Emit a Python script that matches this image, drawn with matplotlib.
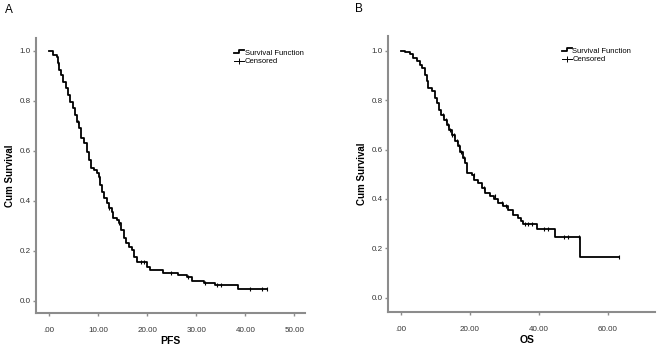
import numpy as np
import matplotlib
matplotlib.use("Agg")
import matplotlib.pyplot as plt
from matplotlib.lines import Line2D
from matplotlib.legend_handler import HandlerBase

plt.rcParams['font.family'] = ['Liberation Sans', 'DejaVu Sans']

# PFS: step times and survival level after each step
pfs_t = [0.0, 0.9, 1.6, 1.9, 2.05, 2.45, 2.9, 3.4, 3.8, 4.3, 4.8, 5.3, 5.8, 6.2, 6.5, 7.2,
         7.7, 8.2, 8.6, 9.2, 9.7, 10.1, 10.3, 10.8, 11.3, 11.8, 12.2, 12.8, 13.1, 13.8, 14.3,
         14.7, 15.2, 15.6, 16.3, 16.9, 17.4, 17.9, 19.9, 20.6, 23.2, 26.2, 28.1, 29.1, 31.5,
         33.9, 38.6, 44.4]
pfs_s = [1.0, 0.984, 0.977, 0.951, 0.924, 0.904, 0.877, 0.851, 0.824, 0.797, 0.771, 0.744,
         0.717, 0.691, 0.651, 0.631, 0.597, 0.564, 0.533, 0.524, 0.511, 0.497, 0.464, 0.437,
         0.411, 0.391, 0.371, 0.357, 0.331, 0.324, 0.311, 0.284, 0.251, 0.231, 0.217, 0.204,
         0.177, 0.155, 0.137, 0.122, 0.111, 0.103, 0.095, 0.079, 0.071, 0.064, 0.046, 0.046]
pfs_cens_t = [1.9, 5.9, 10.1, 12.3, 14.3, 18.8, 19.4, 24.8, 28.4, 31.8, 34.3, 35.1, 41.0,
              43.3, 44.4]
pfs_cens_s = [0.951, 0.717, 0.497, 0.371, 0.311, 0.155, 0.155, 0.111, 0.095, 0.071, 0.064,
              0.064, 0.046, 0.046, 0.046]

# OS
os_t = [0.0, 1.2, 2.6, 3.6, 4.5, 5.5, 6.2, 6.8, 7.4, 7.9, 8.9, 9.7, 10.3, 11.0, 11.6, 12.6,
        13.2, 13.9, 14.7, 15.7, 16.4, 17.1, 18.1, 18.6, 19.0, 20.5, 21.2, 22.4, 23.6, 24.3,
        25.8, 27.0, 28.2, 29.7, 31.1, 32.6, 33.8, 34.8, 35.5, 39.3, 44.6, 51.8, 63.2]
os_s = [1.0, 0.995, 0.986, 0.97, 0.957, 0.943, 0.93, 0.903, 0.876, 0.849, 0.835, 0.809,
        0.788, 0.761, 0.741, 0.721, 0.7, 0.68, 0.66, 0.633, 0.613, 0.592, 0.566, 0.545, 0.507,
        0.498, 0.478, 0.464, 0.444, 0.424, 0.41, 0.401, 0.383, 0.37, 0.356, 0.336, 0.323,
        0.309, 0.3, 0.279, 0.245, 0.164, 0.164]
os_cens_t = [12.2, 13.0, 13.6, 14.3, 14.9, 15.5, 16.2, 16.8, 17.5, 18.3, 21.3, 24.0, 27.3,
             29.2, 30.4, 36.0, 36.9, 38.0, 41.5, 42.6, 47.4, 48.4, 51.5, 63.2]
os_cens_s = [0.741, 0.721, 0.7, 0.68, 0.66, 0.66, 0.633, 0.613, 0.592, 0.566, 0.498, 0.444,
             0.41, 0.383, 0.37, 0.3, 0.3, 0.3, 0.279, 0.279, 0.245, 0.245, 0.245, 0.164]


class StepHandler(HandlerBase):
    def create_artists(self, legend, orig_handle, xd, yd, w, h, fontsize, trans):
        xs = [xd, xd + w * 0.5, xd + w * 0.5, xd + w]
        ys = [yd + h * 0.25, yd + h * 0.25, yd + h * 0.85, yd + h * 0.85]
        ln = Line2D(xs, ys, color='black', lw=1.3, transform=trans)
        return [ln]


def km_panel(ax, t, s, ct, cs, xlim, xticks, xlabel, ylim, legx, labx):
    ax.plot(t, s, drawstyle='steps-post', color='black', lw=1.3)
    ax.plot(ct, cs, ls='none', marker='|', ms=3.5, mew=0.8, color='black')
    ax.set_xlim(xlim)
    ax.set_ylim(ylim)
    ax.set_xticks(xticks)
    ax.set_xticklabels(['.00' if v == 0 else '%.2f' % v for v in xticks])
    ax.set_yticks([0, 0.2, 0.4, 0.6, 0.8, 1.0])
    ax.set_yticklabels(['0.0', '0.2', '0.4', '0.6', '0.8', '1.0'])
    for sp in ['top', 'right']:
        ax.spines[sp].set_visible(False)
    for sp in ['left', 'bottom']:
        ax.spines[sp].set_color('#8c8c8c')
        ax.spines[sp].set_linewidth(1.5)
    ax.tick_params(axis='both', labelsize=5.8, colors='#8c8c8c', labelcolor='#333333',
                   length=2.5, width=1)
    ax.tick_params(axis='x', pad=8)
    ax.tick_params(axis='y', pad=1.5)
    ax.set_xlabel(xlabel, fontsize=7.5, fontweight='bold')
    ax.xaxis.set_label_coords(labx, -0.085)
    ax.set_ylabel('Cum Survival', fontsize=7, fontweight='bold', labelpad=3)
    h1 = Line2D([], [], color='black')
    h2 = Line2D([], [], color='black', lw=0.7, marker='|', ms=4, mew=0.7)
    ax.legend([h1, h2], ['Survival Function', 'Censored'], handler_map={h1: StepHandler()},
              loc='upper left', bbox_to_anchor=(legx, 0.97), frameon=False, fontsize=5.5,
              handlelength=1.3, handletextpad=0.1, labelspacing=0.2, borderaxespad=0)


fig = plt.figure(figsize=(6.6, 3.45), dpi=100)
axA = fig.add_axes([0.0545, 0.093, 0.408, 0.797])
axB = fig.add_axes([0.588, 0.096, 0.404, 0.80])

km_panel(axA, pfs_t, pfs_s, pfs_cens_t, pfs_cens_s, (-2.65, 52.2), [0, 10, 20, 30, 40, 50],
         'PFS', (-0.048, 1.052), 0.725, 0.5)
km_panel(axB, os_t, os_s, os_cens_t, os_cens_s, (-3.77, 73.6), [0, 20, 40, 60],
         'OS', (-0.057, 1.06), 0.64, 0.52)

fig.text(0.008, 0.97, 'A', fontsize=8.5, va='center')
fig.text(0.538, 0.975, 'B', fontsize=8.5, va='center')

fig.savefig('out.png', dpi=100)
